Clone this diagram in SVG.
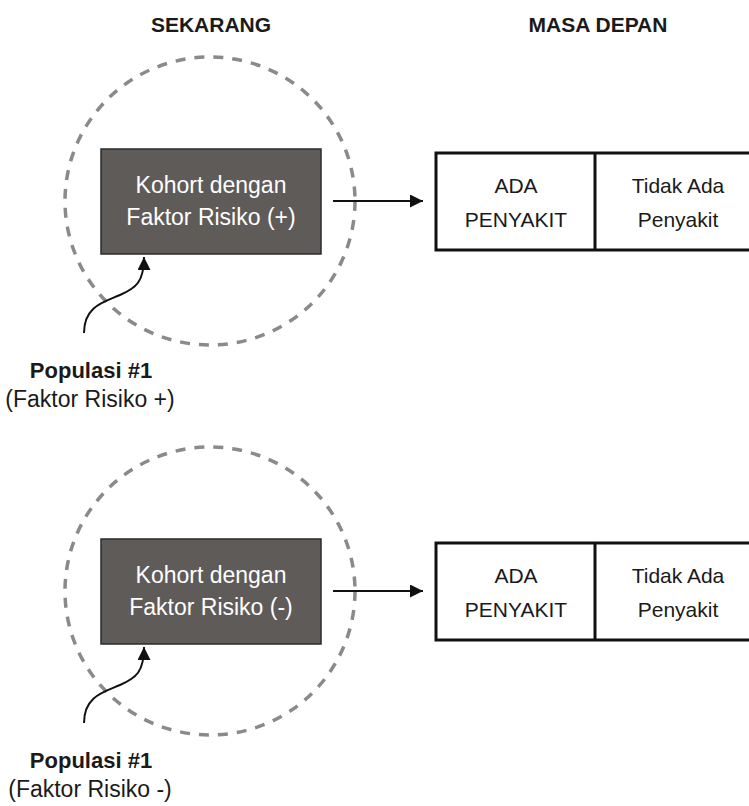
<svg xmlns="http://www.w3.org/2000/svg" width="749" height="806" viewBox="0 0 749 806">
  <defs>
    <style>
      .title { font-family: "Liberation Sans", Arial, sans-serif; font-weight: bold; font-size: 21px; fill: #1a1a1a; text-anchor: middle; }
      .cohort { fill: #5f5b59; stroke: #2b2b2b; stroke-width: 1.5; }
      .cohort-text { font-family: "Liberation Sans", Arial, sans-serif; font-size: 23px; fill: #ffffff; text-anchor: middle; }
      .ring { fill: none; stroke: #8a8a8a; stroke-width: 3.5; stroke-dasharray: 10 9; }
      .outcome { fill: #ffffff; stroke: #111111; stroke-width: 3; }
      .outcome-text { font-family: "Liberation Sans", Arial, sans-serif; font-size: 21px; fill: #1a1a1a; text-anchor: middle; }
      .pop-name { font-family: "Liberation Sans", Arial, sans-serif; font-weight: bold; font-size: 22px; fill: #1a1a1a; text-anchor: middle; }
      .pop-sub { font-family: "Liberation Sans", Arial, sans-serif; font-size: 23px; fill: #1a1a1a; text-anchor: middle; }
      .link { fill: none; stroke: #111111; stroke-width: 2; }
    </style>
    <marker id="head" viewBox="0 0 13 13" refX="13" refY="6.5" markerWidth="13" markerHeight="13" markerUnits="userSpaceOnUse" orient="auto">
      <path d="M0,0 L13,6.5 L0,13 z" fill="#111111"/>
    </marker>
  </defs>

  <!-- column headings -->
  <g id="headings">
    <text class="title" x="211" y="32">SEKARANG</text>
    <text class="title" x="598" y="32">MASA DEPAN</text>
  </g>

  <!-- population with risk factor (+) -->
  <g id="population-plus">
    <ellipse class="ring" cx="210" cy="201" rx="145" ry="144"/>
  </g>
  <g id="cohort-plus">
    <rect class="cohort" x="101" y="149" width="220" height="105"/>
    <text class="cohort-text" x="211" y="193">Kohort dengan</text>
    <text class="cohort-text" x="211" y="225">Faktor Risiko (+)</text>
  </g>
  <g id="outcome-plus">
    <rect class="outcome" x="436" y="153" width="326" height="97"/>
    <line x1="595" y1="153" x2="595" y2="250" stroke="#111111" stroke-width="3"/>
    <text class="outcome-text" x="516" y="193">ADA</text>
    <text class="outcome-text" x="516" y="227">PENYAKIT</text>
    <text class="outcome-text" x="678" y="193">Tidak Ada</text>
    <text class="outcome-text" x="678" y="227">Penyakit</text>
  </g>
  <g id="label-plus">
    <text class="pop-name" x="91" y="378">Populasi #1</text>
    <text class="pop-sub" x="90" y="407">(Faktor Risiko +)</text>
  </g>

  <!-- population with risk factor (-) -->
  <g id="population-minus">
    <ellipse class="ring" cx="210" cy="591" rx="145" ry="144"/>
  </g>
  <g id="cohort-minus">
    <rect class="cohort" x="101" y="539" width="220" height="105"/>
    <text class="cohort-text" x="211" y="583">Kohort dengan</text>
    <text class="cohort-text" x="211" y="615">Faktor Risiko (-)</text>
  </g>
  <g id="outcome-minus">
    <rect class="outcome" x="436" y="543" width="326" height="97"/>
    <line x1="595" y1="543" x2="595" y2="640" stroke="#111111" stroke-width="3"/>
    <text class="outcome-text" x="516" y="583">ADA</text>
    <text class="outcome-text" x="516" y="617">PENYAKIT</text>
    <text class="outcome-text" x="678" y="583">Tidak Ada</text>
    <text class="outcome-text" x="678" y="617">Penyakit</text>
  </g>
  <g id="label-minus">
    <text class="pop-name" x="91" y="768">Populasi #1</text>
    <text class="pop-sub" x="90" y="797">(Faktor Risiko -)</text>
  </g>

  <!-- connectors -->
  <g id="connectors">
    <line class="link" x1="333" y1="201" x2="423" y2="201" marker-end="url(#head)"/>
    <path class="link" d="M84,333 C84,306 104,302 120,295 C136,288 144,282 144,257" marker-end="url(#head)"/>
    <line class="link" x1="333" y1="591" x2="423" y2="591" marker-end="url(#head)"/>
    <path class="link" d="M84,723 C84,696 104,692 120,685 C136,678 144,672 144,647" marker-end="url(#head)"/>
  </g>
</svg>
